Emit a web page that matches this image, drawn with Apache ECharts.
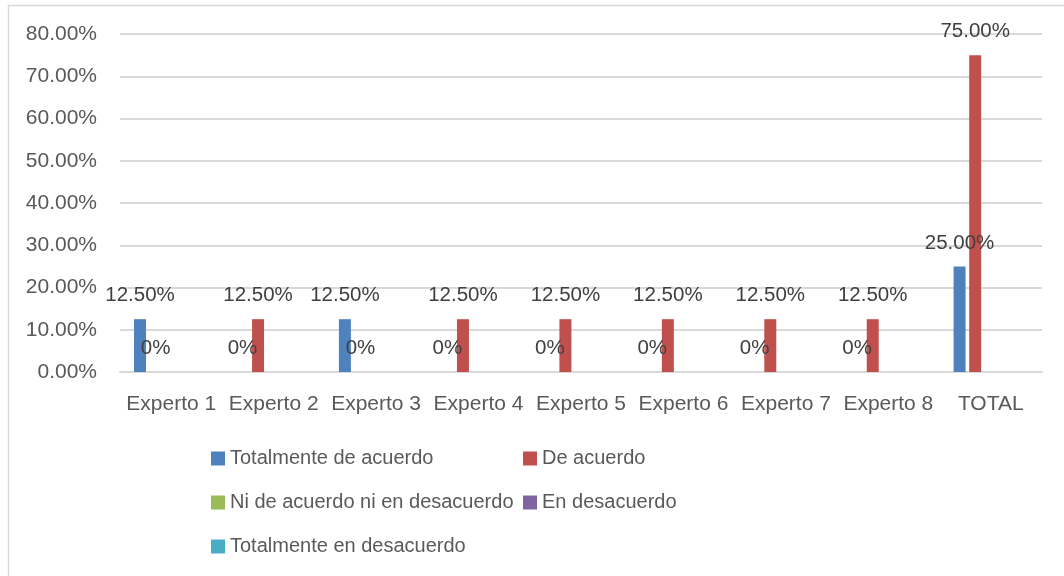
<!DOCTYPE html>
<html>
<head>
<meta charset="utf-8">
<script src="https://cdn.jsdelivr.net/npm/echarts@6/dist/echarts.min.js"></script>
<style>
    html, body { margin: 0; padding: 0; background: #fff; }
    #chart { width: 1064px; height: 576px; }
</style>
</head>
<body>
<div id="chart"></div>
<script>
// categorías y valores (porcentaje)
const categories = ['Experto 1', 'Experto 2', 'Experto 3', 'Experto 4', 'Experto 5', 'Experto 6', 'Experto 7', 'Experto 8', 'TOTAL'];
const seriesNames = ['Totalmente de acuerdo', 'De acuerdo', 'Ni de acuerdo ni en desacuerdo', 'En desacuerdo', 'Totalmente en desacuerdo'];
const totalmenteDeAcuerdo = [12.5, 0, 12.5, 0, 0, 0, 0, 0, 25];
const deAcuerdo = [0, 12.5, 0, 12.5, 12.5, 12.5, 12.5, 12.5, 75];
const niDeAcuerdo = [0, 0, 0, 0, 0, 0, 0, 0, 0];
const enDesacuerdo = [0, 0, 0, 0, 0, 0, 0, 0, 0];
const totalmenteEnDesacuerdo = [0, 0, 0, 0, 0, 0, 0, 0, 0];
const colors = ['#4F81BD', '#C0504D', '#9BBB59', '#8064A2', '#4BACC6'];

const font = '"Liberation Sans", Arial, sans-serif';
const allData = [totalmenteDeAcuerdo, deAcuerdo, niDeAcuerdo, enDesacuerdo, totalmenteEnDesacuerdo];

const fmtLabel = (p) => (p.value === 0 ? '0%' : p.value.toFixed(2) + '%');

const chart = echarts.init(document.getElementById('chart'));
const option = {
    animation: false,
    color: colors,
    textStyle: { fontFamily: font },
    graphic: [{
        type: 'rect',
        shape: { x: 8.5, y: 5.5, width: 1100, height: 620 },
        style: { fill: 'none', stroke: '#d9d9d9', lineWidth: 1.5 },
        silent: true,
    }],
    grid: {
        left: 120,
        right: 22,
        top: 34,
        bottom: 204,
    },
    legend: {
        data: seriesNames,
        left: 211,
        top: 441,
        width: 640,
        padding: 0,
        orient: 'horizontal',
        itemWidth: 14,
        itemHeight: 14,
        itemGap: 9,
        icon: 'rect',
        selectedMode: false,
        textStyle: {
            fontFamily: font,
            fontSize: 20,
            color: '#595959',
            width: 284,
            lineHeight: 35,
        },
    },
    xAxis: {
        type: 'category',
        data: categories,
        axisLine: { lineStyle: { color: '#d9d9d9', width: 2 } },
        axisTick: { show: false },
        axisLabel: {
            fontFamily: font,
            fontSize: 21,
            color: '#595959',
            margin: 22,
            interval: 0,
        },
    },
    yAxis: {
        type: 'value',
        min: 0,
        max: 80,
        interval: 10,
        axisLine: { show: false },
        axisTick: { show: false },
        splitLine: { lineStyle: { color: '#d9d9d9', width: 2 } },
        axisLabel: {
            fontFamily: font,
            fontSize: 21,
            color: '#595959',
            margin: 23,
            formatter: (v) => v.toFixed(2) + '%',
        },
    },
    series: seriesNames.map((name, i) => ({
        name,
        type: 'bar',
        data: allData[i],
        barWidth: 12,
        barGap: '30%',
        label: {
            show: i < 2,
            position: 'top',
            distance: 13,
            fontFamily: font,
            fontSize: 20.5,
            color: '#404040',
            formatter: fmtLabel,
        },
    })),
};
chart.setOption(option);
</script>
</body>
</html>
